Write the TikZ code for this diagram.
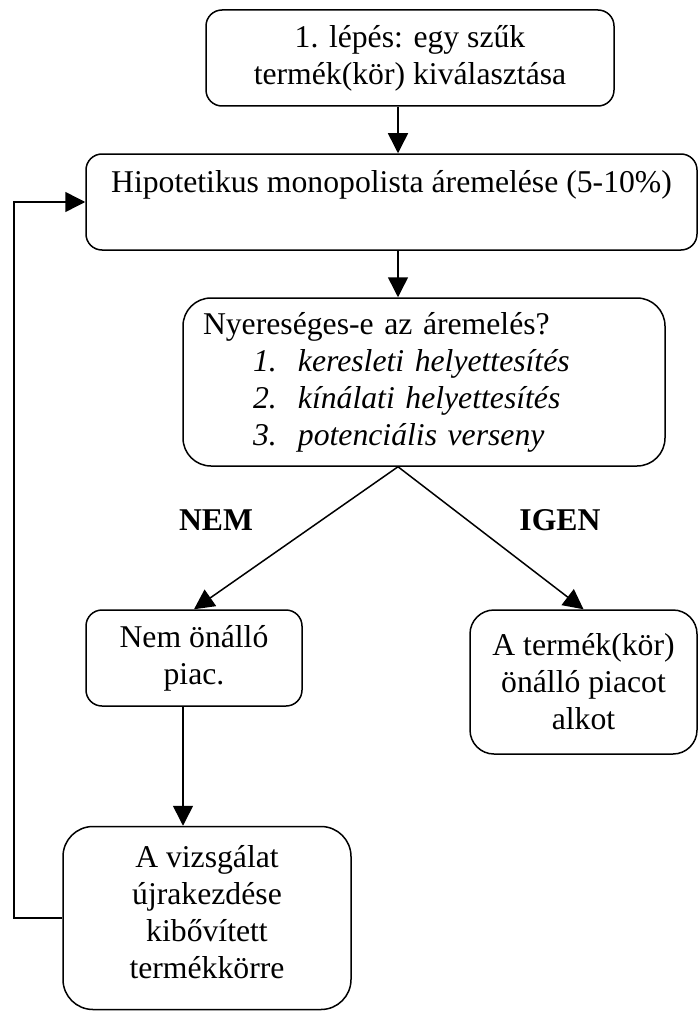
\documentclass[tikz,border=0pt]{standalone}
\usepackage{fontspec}
\setmainfont{Liberation Serif}
\usetikzlibrary{arrows.meta,positioning,calc}

\begin{document}
\begin{tikzpicture}[
  x=1pt, y=-1pt,
  >={Triangle[width=20pt,length=20pt]},
  every node/.style={font=\fontsize{31.7}{37}\selectfont},
  box/.style={rectangle, draw=black, line width=1.5pt, align=center, inner sep=0pt},
  lab/.style={font=\fontsize{31.7}{37}\selectfont\bfseries, inner sep=0pt},
  link/.style={->, line width=1.5pt}
]
  \useasboundingbox (0,0) rectangle (699,1014);

  \node[box, rounded corners=16pt, minimum width=408pt, minimum height=96pt] (step) at (410,58) {1. lépés: egy szűk\\termék(kör) kiválasztása};
  \node[box, rounded corners=16pt, minimum width=611pt, minimum height=96pt, text depth=41pt] (hmt) at (391.5,202) {Hipotetikus monopolista áremelése (5-10\%)};
  \node[box, rounded corners=28pt, minimum width=482pt, minimum height=168pt, text width=442pt, align=left, inner xsep=20pt] (quest) at (424,382) {Nyereséges-e az áremelés?\\
    \hspace*{50pt}\makebox[45pt][l]{\itshape 1.}\textit{keresleti helyettesítés}\\
    \hspace*{50pt}\makebox[45pt][l]{\itshape 2.}\textit{kínálati helyettesítés}\\
    \hspace*{50pt}\makebox[45pt][l]{\itshape 3.}\textit{potenciális verseny}};
  \node[box, rounded corners=16pt, minimum width=216pt, minimum height=96pt] (nopiac) at (194,658) {Nem önálló\\piac.};
  \node[box, rounded corners=24pt, minimum width=227pt, minimum height=144pt] (piac) at (583.5,682) {A termék(kör)\\önálló piacot\\alkot};
  \node[box, rounded corners=30pt, minimum width=288pt, minimum height=183pt, text depth=12pt] (restart) at (207,918) {A vizsgálat\\újrakezdése\\kibővített\\termékkörre};

  \node[lab] (nem) at (216,520) {NEM};
  \node[lab] (igen) at (560,520) {IGEN};

  \coordinate (spine) at (398,0);
  \coordinate (drop) at (183,0);
  \coordinate (rail) at (14,500);

  \draw[link] (step.south -| spine) -- (hmt.north -| spine);
  \draw[link] (hmt.south -| spine) -- (quest.north -| spine);
  \draw[link] (quest.south -| spine) -- (nopiac.north);
  \draw[link] (quest.south -| spine) -- (piac.north);
  \draw[link] (nopiac.south -| drop) -- (restart.north -| drop);
  \draw[link] (restart.west) -| (rail) |- (hmt.west);
\end{tikzpicture}
\end{document}
